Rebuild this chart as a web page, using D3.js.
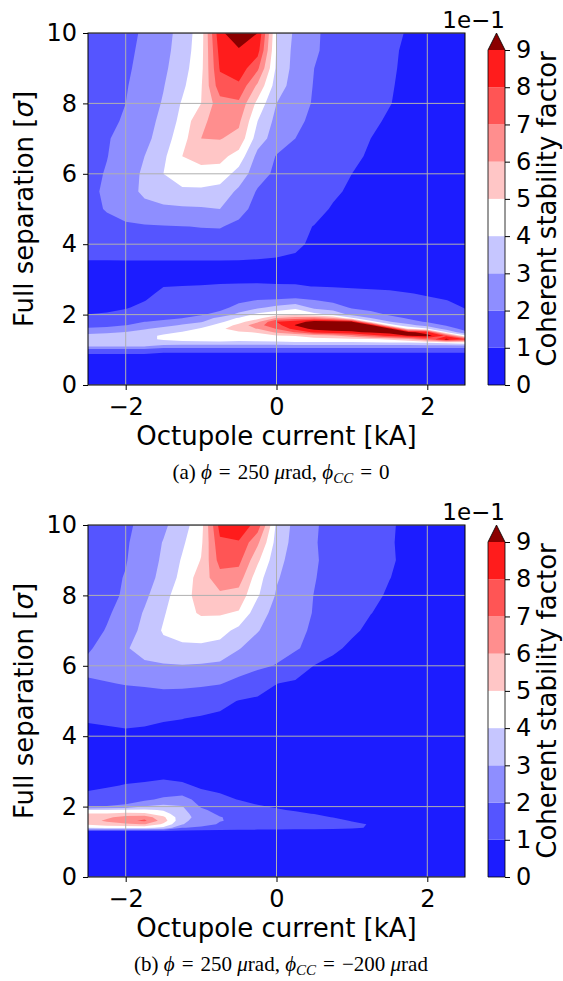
<!DOCTYPE html>
<html lang="en">
<head>
    <meta charset="UTF-8">
    <title>Coherent stability factor maps</title>
    <script src="https://d3js.org/d3.v7.min.js"></script>
    <style>
        body { margin: 0; background: #fff; }
        svg text { font-family: "DejaVu Sans", sans-serif; fill: #000; }
        .caption { font-family: "Liberation Serif", "Times New Roman", serif; }
    </style>
</head>
<body>
<svg width="563" height="981"></svg>

<script>
    // grid columns: octupole current [kA]
    const currentCols = [-2.5, -2.25, -2, -1.75, -1.5, -1.25, -1, -0.75, -0.5, -0.25, 0,
        0.25, 0.5, 0.75, 1, 1.25, 1.5, 1.75, 2, 2.25, 2.5];
    // grid rows: full separation [sigma], top to bottom
    const separationRows = [10, 9.5, 9, 8.5, 8, 7.5, 7, 6.5, 6, 5.5, 5, 4.5, 4, 3.5, 3, 2.8,
        2.6, 2.4, 2.2, 2.0, 1.9, 1.8, 1.7, 1.6, 1.5, 1.4, 1.3, 1.2, 1.1, 1.0, 0.8, 0];

    // (a) phi = 250 urad, phi_CC = 0  -- stability factor
    const stabilityA = [
        [0.15, 0.165, 0.18, 0.21, 0.26, 0.34, 0.45, 0.88, 0.96, 0.90, 0.40, 0.28, 0.21, 0.18, 0.16, 0.14, 0.115, 0.095, 0.08, 0.07, 0.06],
        [0.155, 0.17, 0.185, 0.215, 0.27, 0.345, 0.46, 0.84, 0.89, 0.84, 0.39, 0.27, 0.21, 0.175, 0.155, 0.135, 0.11, 0.09, 0.078, 0.068, 0.058],
        [0.16, 0.175, 0.19, 0.22, 0.28, 0.36, 0.47, 0.81, 0.86, 0.72, 0.38, 0.265, 0.20, 0.17, 0.15, 0.13, 0.108, 0.088, 0.076, 0.066, 0.056],
        [0.165, 0.18, 0.195, 0.23, 0.295, 0.38, 0.49, 0.76, 0.78, 0.58, 0.35, 0.255, 0.195, 0.165, 0.145, 0.125, 0.105, 0.086, 0.074, 0.064, 0.054],
        [0.17, 0.185, 0.20, 0.24, 0.31, 0.41, 0.50, 0.66, 0.68, 0.47, 0.30, 0.245, 0.19, 0.16, 0.14, 0.12, 0.102, 0.084, 0.072, 0.062, 0.052],
        [0.175, 0.19, 0.205, 0.255, 0.33, 0.43, 0.58, 0.64, 0.62, 0.40, 0.27, 0.22, 0.18, 0.15, 0.13, 0.11, 0.093, 0.08, 0.07, 0.06, 0.05],
        [0.18, 0.195, 0.22, 0.27, 0.35, 0.46, 0.60, 0.605, 0.57, 0.35, 0.25, 0.20, 0.165, 0.14, 0.12, 0.10, 0.088, 0.076, 0.067, 0.058, 0.05],
        [0.18, 0.198, 0.23, 0.30, 0.38, 0.50, 0.53, 0.53, 0.46, 0.27, 0.195, 0.165, 0.145, 0.125, 0.108, 0.095, 0.083, 0.072, 0.064, 0.056, 0.048],
        [0.18, 0.205, 0.245, 0.32, 0.40, 0.46, 0.47, 0.46, 0.36, 0.24, 0.18, 0.15, 0.13, 0.115, 0.10, 0.09, 0.078, 0.068, 0.06, 0.053, 0.046],
        [0.185, 0.21, 0.26, 0.32, 0.36, 0.38, 0.38, 0.36, 0.28, 0.19, 0.16, 0.14, 0.12, 0.105, 0.095, 0.085, 0.075, 0.066, 0.058, 0.051, 0.045],
        [0.18, 0.205, 0.24, 0.27, 0.28, 0.285, 0.29, 0.30, 0.23, 0.17, 0.14, 0.125, 0.11, 0.097, 0.088, 0.08, 0.07, 0.062, 0.055, 0.049, 0.043],
        [0.17, 0.18, 0.185, 0.19, 0.195, 0.198, 0.203, 0.205, 0.18, 0.14, 0.12, 0.108, 0.099, 0.09, 0.082, 0.075, 0.067, 0.06, 0.053, 0.047, 0.042],
        [0.15, 0.155, 0.16, 0.16, 0.16, 0.16, 0.16, 0.16, 0.15, 0.13, 0.115, 0.105, 0.095, 0.085, 0.078, 0.07, 0.063, 0.057, 0.05, 0.045, 0.04],
        [0.095, 0.095, 0.095, 0.095, 0.095, 0.095, 0.095, 0.095, 0.095, 0.095, 0.095, 0.095, 0.088, 0.08, 0.072, 0.066, 0.06, 0.055, 0.05, 0.046, 0.042],
        [0.065, 0.068, 0.072, 0.078, 0.085, 0.088, 0.09, 0.09, 0.09, 0.09, 0.09, 0.088, 0.085, 0.082, 0.08, 0.077, 0.074, 0.07, 0.066, 0.062, 0.058],
        [0.07, 0.072, 0.075, 0.082, 0.099, 0.101, 0.102, 0.105, 0.107, 0.108, 0.105, 0.105, 0.099, 0.095, 0.093, 0.09, 0.088, 0.085, 0.082, 0.078, 0.072],
        [0.07, 0.072, 0.078, 0.088, 0.11, 0.115, 0.125, 0.13, 0.14, 0.15, 0.15, 0.155, 0.15, 0.135, 0.12, 0.115, 0.11, 0.102, 0.095, 0.09, 0.08],
        [0.075, 0.078, 0.085, 0.098, 0.125, 0.13, 0.14, 0.15, 0.18, 0.205, 0.21, 0.22, 0.205, 0.18, 0.15, 0.14, 0.13, 0.12, 0.108, 0.101, 0.09],
        [0.085, 0.088, 0.095, 0.115, 0.14, 0.145, 0.16, 0.17, 0.23, 0.28, 0.33, 0.38, 0.27, 0.24, 0.19, 0.17, 0.16, 0.14, 0.125, 0.115, 0.098],
        [0.101, 0.105, 0.12, 0.15, 0.16, 0.17, 0.19, 0.23, 0.33, 0.43, 0.47, 0.48, 0.44, 0.38, 0.27, 0.23, 0.19, 0.17, 0.145, 0.13, 0.11],
        [0.12, 0.125, 0.14, 0.17, 0.18, 0.198, 0.24, 0.33, 0.41, 0.46, 0.605, 0.65, 0.68, 0.605, 0.41, 0.30, 0.23, 0.19, 0.16, 0.14, 0.12],
        [0.14, 0.145, 0.17, 0.198, 0.22, 0.25, 0.29, 0.38, 0.46, 0.58, 0.80, 0.85, 0.94, 0.93, 0.905, 0.44, 0.305, 0.23, 0.19, 0.16, 0.13],
        [0.17, 0.175, 0.198, 0.24, 0.27, 0.31, 0.36, 0.43, 0.53, 0.67, 0.76, 0.905, 0.96, 0.97, 0.97, 0.94, 0.45, 0.33, 0.26, 0.19, 0.15],
        [0.21, 0.22, 0.25, 0.29, 0.33, 0.36, 0.41, 0.48, 0.55, 0.605, 0.705, 0.84, 0.93, 0.95, 0.96, 0.97, 0.94, 0.48, 0.405, 0.25, 0.17],
        [0.27, 0.28, 0.305, 0.34, 0.38, 0.405, 0.45, 0.49, 0.49, 0.505, 0.62, 0.705, 0.82, 0.86, 0.88, 0.92, 0.95, 0.93, 0.85, 0.405, 0.22],
        [0.33, 0.34, 0.35, 0.38, 0.41, 0.44, 0.47, 0.48, 0.46, 0.48, 0.49, 0.505, 0.55, 0.58, 0.66, 0.75, 0.82, 0.905, 0.94, 0.78, 0.42],
        [0.37, 0.38, 0.385, 0.39, 0.405, 0.43, 0.44, 0.45, 0.43, 0.44, 0.45, 0.46, 0.46, 0.47, 0.47, 0.48, 0.52, 0.58, 0.705, 0.92, 0.805],
        [0.36, 0.37, 0.37, 0.37, 0.38, 0.37, 0.37, 0.37, 0.37, 0.37, 0.37, 0.38, 0.38, 0.38, 0.38, 0.39, 0.39, 0.39, 0.405, 0.42, 0.45],
        [0.305, 0.305, 0.305, 0.305, 0.25, 0.25, 0.25, 0.25, 0.25, 0.25, 0.25, 0.25, 0.25, 0.25, 0.25, 0.25, 0.25, 0.25, 0.25, 0.25, 0.25],
        [0.17, 0.17, 0.17, 0.17, 0.15, 0.15, 0.15, 0.15, 0.15, 0.15, 0.15, 0.15, 0.15, 0.15, 0.15, 0.15, 0.15, 0.15, 0.15, 0.15, 0.15],
        [0.05, 0.05, 0.05, 0.05, 0.03, 0.03, 0.03, 0.03, 0.03, 0.03, 0.03, 0.03, 0.03, 0.03, 0.03, 0.03, 0.03, 0.03, 0.03, 0.03, 0.03],
        [0.02, 0.02, 0.02, 0.02, 0.02, 0.02, 0.02, 0.02, 0.02, 0.02, 0.02, 0.02, 0.02, 0.02, 0.02, 0.02, 0.02, 0.02, 0.02, 0.02, 0.02]
    ];

    // (b) phi = 250 urad, phi_CC = -200 urad
    const stabilityB = [
        [0.14, 0.16, 0.18, 0.23, 0.28, 0.36, 0.46, 0.84, 0.87, 0.76, 0.38, 0.27, 0.21, 0.17, 0.145, 0.125, 0.105, 0.09, 0.08, 0.07, 0.06],
        [0.145, 0.165, 0.19, 0.24, 0.305, 0.385, 0.48, 0.78, 0.79, 0.62, 0.36, 0.265, 0.207, 0.168, 0.142, 0.124, 0.104, 0.089, 0.079, 0.069, 0.059],
        [0.15, 0.17, 0.195, 0.25, 0.315, 0.41, 0.505, 0.74, 0.73, 0.52, 0.33, 0.26, 0.21, 0.17, 0.145, 0.123, 0.105, 0.09, 0.078, 0.068, 0.058],
        [0.155, 0.175, 0.205, 0.26, 0.33, 0.43, 0.55, 0.66, 0.65, 0.44, 0.31, 0.25, 0.205, 0.165, 0.14, 0.12, 0.101, 0.086, 0.075, 0.065, 0.055],
        [0.16, 0.18, 0.21, 0.28, 0.365, 0.46, 0.54, 0.58, 0.56, 0.41, 0.29, 0.24, 0.198, 0.16, 0.135, 0.113, 0.093, 0.082, 0.072, 0.063, 0.054],
        [0.165, 0.19, 0.23, 0.31, 0.39, 0.47, 0.51, 0.51, 0.49, 0.34, 0.27, 0.235, 0.195, 0.155, 0.125, 0.101, 0.088, 0.078, 0.07, 0.061, 0.052],
        [0.17, 0.205, 0.25, 0.33, 0.41, 0.44, 0.45, 0.44, 0.37, 0.305, 0.255, 0.225, 0.185, 0.14, 0.108, 0.09, 0.08, 0.072, 0.065, 0.058, 0.05],
        [0.19, 0.23, 0.29, 0.34, 0.37, 0.38, 0.38, 0.36, 0.305, 0.26, 0.235, 0.21, 0.17, 0.11, 0.09, 0.085, 0.076, 0.068, 0.062, 0.055, 0.048],
        [0.22, 0.24, 0.27, 0.28, 0.29, 0.295, 0.29, 0.28, 0.25, 0.22, 0.195, 0.15, 0.098, 0.085, 0.078, 0.072, 0.067, 0.062, 0.057, 0.052, 0.046],
        [0.19, 0.195, 0.205, 0.21, 0.22, 0.22, 0.215, 0.205, 0.17, 0.135, 0.101, 0.088, 0.08, 0.074, 0.068, 0.064, 0.06, 0.056, 0.052, 0.048, 0.044],
        [0.15, 0.155, 0.16, 0.16, 0.16, 0.155, 0.14, 0.12, 0.097, 0.088, 0.082, 0.077, 0.072, 0.067, 0.063, 0.06, 0.056, 0.052, 0.049, 0.046, 0.042],
        [0.105, 0.11, 0.115, 0.112, 0.105, 0.101, 0.092, 0.086, 0.08, 0.075, 0.07, 0.066, 0.062, 0.058, 0.055, 0.052, 0.049, 0.046, 0.043, 0.04, 0.038],
        [0.085, 0.085, 0.088, 0.085, 0.08, 0.076, 0.072, 0.068, 0.064, 0.06, 0.057, 0.054, 0.051, 0.048, 0.045, 0.042, 0.04, 0.038, 0.036, 0.034, 0.032],
        [0.075, 0.076, 0.078, 0.078, 0.075, 0.07, 0.066, 0.062, 0.058, 0.055, 0.052, 0.05, 0.047, 0.045, 0.042, 0.04, 0.038, 0.036, 0.034, 0.032, 0.03],
        [0.07, 0.072, 0.075, 0.078, 0.078, 0.074, 0.068, 0.064, 0.06, 0.057, 0.054, 0.051, 0.048, 0.046, 0.043, 0.041, 0.039, 0.037, 0.035, 0.033, 0.031],
        [0.07, 0.07, 0.08, 0.085, 0.095, 0.09, 0.08, 0.075, 0.07, 0.066, 0.064, 0.06, 0.056, 0.053, 0.05, 0.047, 0.044, 0.041, 0.038, 0.035, 0.032],
        [0.08, 0.09, 0.105, 0.115, 0.125, 0.11, 0.09, 0.085, 0.075, 0.072, 0.07, 0.066, 0.062, 0.058, 0.055, 0.052, 0.049, 0.046, 0.043, 0.04, 0.036],
        [0.105, 0.12, 0.13, 0.14, 0.16, 0.17, 0.11, 0.098, 0.085, 0.08, 0.076, 0.072, 0.068, 0.064, 0.06, 0.056, 0.052, 0.049, 0.046, 0.042, 0.038],
        [0.14, 0.15, 0.16, 0.18, 0.22, 0.24, 0.16, 0.115, 0.098, 0.085, 0.08, 0.075, 0.072, 0.068, 0.064, 0.06, 0.056, 0.052, 0.048, 0.044, 0.04],
        [0.18, 0.205, 0.22, 0.305, 0.33, 0.305, 0.19, 0.14, 0.125, 0.105, 0.095, 0.085, 0.08, 0.075, 0.07, 0.066, 0.062, 0.057, 0.053, 0.048, 0.044],
        [0.405, 0.41, 0.42, 0.42, 0.39, 0.32, 0.22, 0.16, 0.14, 0.125, 0.105, 0.095, 0.088, 0.08, 0.075, 0.07, 0.066, 0.061, 0.056, 0.051, 0.046],
        [0.505, 0.505, 0.53, 0.52, 0.44, 0.33, 0.25, 0.18, 0.155, 0.14, 0.125, 0.11, 0.098, 0.088, 0.08, 0.075, 0.07, 0.064, 0.059, 0.054, 0.048],
        [0.53, 0.58, 0.64, 0.66, 0.52, 0.33, 0.27, 0.205, 0.17, 0.155, 0.14, 0.13, 0.115, 0.098, 0.088, 0.08, 0.074, 0.068, 0.062, 0.057, 0.05],
        [0.55, 0.62, 0.67, 0.72, 0.55, 0.32, 0.26, 0.205, 0.18, 0.165, 0.15, 0.14, 0.13, 0.115, 0.097, 0.088, 0.078, 0.071, 0.065, 0.059, 0.052],
        [0.52, 0.56, 0.58, 0.605, 0.48, 0.305, 0.24, 0.19, 0.17, 0.16, 0.15, 0.14, 0.13, 0.12, 0.11, 0.097, 0.082, 0.074, 0.067, 0.061, 0.054],
        [0.405, 0.42, 0.42, 0.42, 0.38, 0.205, 0.18, 0.15, 0.14, 0.135, 0.13, 0.125, 0.12, 0.115, 0.108, 0.095, 0.08, 0.072, 0.065, 0.059, 0.052],
        [0.08, 0.08, 0.08, 0.08, 0.08, 0.075, 0.07, 0.07, 0.07, 0.07, 0.07, 0.07, 0.07, 0.07, 0.07, 0.065, 0.06, 0.058, 0.055, 0.05, 0.046],
        [0.05, 0.05, 0.05, 0.05, 0.05, 0.05, 0.05, 0.05, 0.05, 0.05, 0.05, 0.05, 0.05, 0.05, 0.05, 0.048, 0.046, 0.045, 0.044, 0.042, 0.04],
        [0.045, 0.045, 0.045, 0.045, 0.045, 0.045, 0.045, 0.045, 0.045, 0.045, 0.045, 0.045, 0.045, 0.045, 0.045, 0.044, 0.043, 0.042, 0.041, 0.04, 0.038],
        [0.04, 0.04, 0.04, 0.04, 0.04, 0.04, 0.04, 0.04, 0.04, 0.04, 0.04, 0.04, 0.04, 0.04, 0.04, 0.04, 0.039, 0.038, 0.037, 0.036, 0.035],
        [0.03, 0.03, 0.03, 0.03, 0.03, 0.03, 0.03, 0.03, 0.03, 0.03, 0.03, 0.03, 0.03, 0.03, 0.03, 0.03, 0.03, 0.03, 0.03, 0.03, 0.03],
        [0.02, 0.02, 0.02, 0.02, 0.02, 0.02, 0.02, 0.02, 0.02, 0.02, 0.02, 0.02, 0.02, 0.02, 0.02, 0.02, 0.02, 0.02, 0.02, 0.02, 0.02]
    ];

    const levels = [0.1, 0.2, 0.3, 0.4, 0.5, 0.6, 0.7, 0.8, 0.9];
    const colorbarTicks = [0, 1, 2, 3, 4, 5, 6, 7, 8, 9];
    const xTicks = [-2, 0, 2];
    const yTicks = [0, 2, 4, 6, 8, 10];

    const captionA = [
        {t: "(a) "}, {t: "\u03d5", it: true}, {t: "\u2004=\u2004250 "}, {t: "\u03bc", it: true},
        {t: "rad, "}, {t: "\u03d5", it: true}, {t: "CC", it: true, sub: true}, {t: "\u2004=\u20040"}
    ];
    const captionB = [
        {t: "(b) "}, {t: "\u03d5", it: true}, {t: "\u2004=\u2004250 "}, {t: "\u03bc", it: true},
        {t: "rad, "}, {t: "\u03d5", it: true}, {t: "CC", it: true, sub: true},
        {t: "\u2004=\u2004\u2212200 "}, {t: "\u03bc", it: true}, {t: "rad"}
    ];

    // layout
    const svg = d3.select("svg");
    const plotLeft = 88, plotRight = 465, plotH = 352;
    const cbLeft = 488, cbRight = 505, cbTri = 17;
    const tickFont = 24, labelFont = 26;

    // bwr colormap sampled at band centres, dark red for the extension
    const bwr = d3.scaleLinear().domain([0, 0.45, 0.9]).range(["#0000ff", "#ffffff", "#ff0000"]);
    const overColor = "#8b0000";
    const bandColor = k => k >= 9 ? overColor : bwr(k / 10 + 0.05);

    function drawPanel(top, grid, caption, id) {
        const g = svg.append("g").attr("transform", `translate(0,${top})`);
        const x = d3.scaleLinear().domain([-2.5, 2.5]).range([plotLeft, plotRight]);
        const y = d3.scaleLinear().domain([0, 10]).range([plotH, 0]);

        const n = currentCols.length, m = separationRows.length;
        const colScale = d3.scaleLinear().domain(d3.range(n)).range(currentCols);
        const rowScale = d3.scaleLinear().domain(d3.range(m)).range(separationRows);

        const contours = d3.contours()
            .size([n, m])
            .thresholds(levels)(grid.flat());

        // grid-index space -> data -> pixels
        const proj = d3.geoTransform({
            point: function (px, py) {
                const i = Math.max(0, Math.min(n - 1, px - 0.5));
                const j = Math.max(0, Math.min(m - 1, py - 0.5));
                this.stream.point(x(colScale(i)), y(rowScale(j)));
            }
        });
        const path = d3.geoPath(proj);

        g.append("clipPath").attr("id", "clip" + id)
            .append("rect")
            .attr("x", plotLeft).attr("y", 0)
            .attr("width", plotRight - plotLeft).attr("height", plotH);

        const body = g.append("g").attr("clip-path", `url(#clip${id})`);
        body.append("rect")
            .attr("x", plotLeft).attr("y", 0)
            .attr("width", plotRight - plotLeft).attr("height", plotH)
            .attr("fill", bandColor(0));
        body.selectAll("path")
            .data(contours)
            .enter()
            .append("path")
            .attr("d", d => path(d))
            .attr("fill", (d, i) => bandColor(i + 1));

        // grid lines
        body.selectAll(".gx").data(xTicks).enter().append("line")
            .attr("x1", d => x(d)).attr("x2", d => x(d))
            .attr("y1", 0).attr("y2", plotH)
            .attr("stroke", "#b0b0b0").attr("stroke-width", 1);
        body.selectAll(".gy").data(yTicks).enter().append("line")
            .attr("x1", plotLeft).attr("x2", plotRight)
            .attr("y1", d => y(d)).attr("y2", d => y(d))
            .attr("stroke", "#b0b0b0").attr("stroke-width", 1);

        g.append("rect")
            .attr("x", plotLeft).attr("y", 0)
            .attr("width", plotRight - plotLeft).attr("height", plotH)
            .attr("fill", "none").attr("stroke", "#000").attr("stroke-width", 1);

        // axes
        const xAxis = g.append("g")
            .attr("transform", `translate(0,${plotH})`)
            .call(d3.axisBottom(x).tickValues(xTicks).tickFormat(d3.format("d"))
                .tickSize(5).tickPadding(8).tickSizeOuter(0));
        const yAxis = g.append("g")
            .attr("transform", `translate(${plotLeft},0)`)
            .call(d3.axisLeft(y).tickValues(yTicks).tickFormat(d3.format("d"))
                .tickSize(5).tickPadding(6).tickSizeOuter(0));
        [xAxis, yAxis].forEach(a => {
            a.select(".domain").remove();
            a.attr("font-size", tickFont).attr("font-family", "DejaVu Sans");
        });

        g.append("text")
            .attr("x", (plotLeft + plotRight) / 2).attr("y", plotH + 60)
            .attr("text-anchor", "middle").attr("font-size", labelFont)
            .text("Octupole current [kA]");
        const yl = g.append("text")
            .attr("transform", `translate(33,${plotH / 2}) rotate(-90)`)
            .attr("text-anchor", "middle").attr("font-size", labelFont);
        yl.append("tspan").text("Full separation [");
        yl.append("tspan").attr("font-style", "italic").text("\u03c3");
        yl.append("tspan").text("]");

        // colorbar
        const cb = d3.scaleLinear().domain([0, 0.9]).range([plotH, cbTri]);
        g.selectAll(".band").data(d3.range(9)).enter().append("rect")
            .attr("x", cbLeft).attr("width", cbRight - cbLeft)
            .attr("y", k => cb((k + 1) / 10)).attr("height", k => cb(k / 10) - cb((k + 1) / 10))
            .attr("fill", k => bandColor(k));
        const cbMid = (cbLeft + cbRight) / 2;
        g.append("path")
            .attr("d", d3.line()([[cbLeft, cbTri], [cbMid, 0], [cbRight, cbTri]]) + "Z")
            .attr("fill", overColor);
        g.append("path")
            .attr("d", d3.line()([[cbLeft, plotH], [cbLeft, cbTri], [cbMid, 0],
                [cbRight, cbTri], [cbRight, plotH]]) + "Z")
            .attr("fill", "none").attr("stroke", "#000").attr("stroke-width", 0.8);
        const cbAxis = g.append("g")
            .attr("transform", `translate(${cbRight},0)`)
            .call(d3.axisRight(cb).tickValues(colorbarTicks.map(v => v / 10))
                .tickFormat(v => d3.format("d")(Math.round(v * 10)))
                .tickSize(5).tickPadding(6).tickSizeOuter(0));
        cbAxis.select(".domain").remove();
        cbAxis.attr("font-size", tickFont).attr("font-family", "DejaVu Sans");

        g.append("text")
            .attr("x", cbRight).attr("y", -5)
            .attr("text-anchor", "end").attr("font-size", 23)
            .text("1e\u22121");
        g.append("text")
            .attr("transform", `translate(556,${plotH / 2}) rotate(-90)`)
            .attr("text-anchor", "middle").attr("font-size", labelFont)
            .text("Coherent stability factor");

        // caption
        const cap = g.append("text")
            .attr("class", "caption")
            .attr("x", 281).attr("y", plotH + 94)
            .attr("text-anchor", "middle").attr("font-size", 21);
        caption.forEach((p, i) => {
            const prevSub = i > 0 && caption[i - 1].sub;
            const ts = cap.append("tspan").text(p.t);
            if (p.it) ts.attr("font-style", "italic");
            if (p.sub) ts.attr("font-size", 15).attr("dy", 4);
            else if (prevSub) ts.attr("dy", -4);
        });
    }

    drawPanel(33, stabilityA, captionA, "a");
    drawPanel(525, stabilityB, captionB, "b");
</script>
</body>
</html>
